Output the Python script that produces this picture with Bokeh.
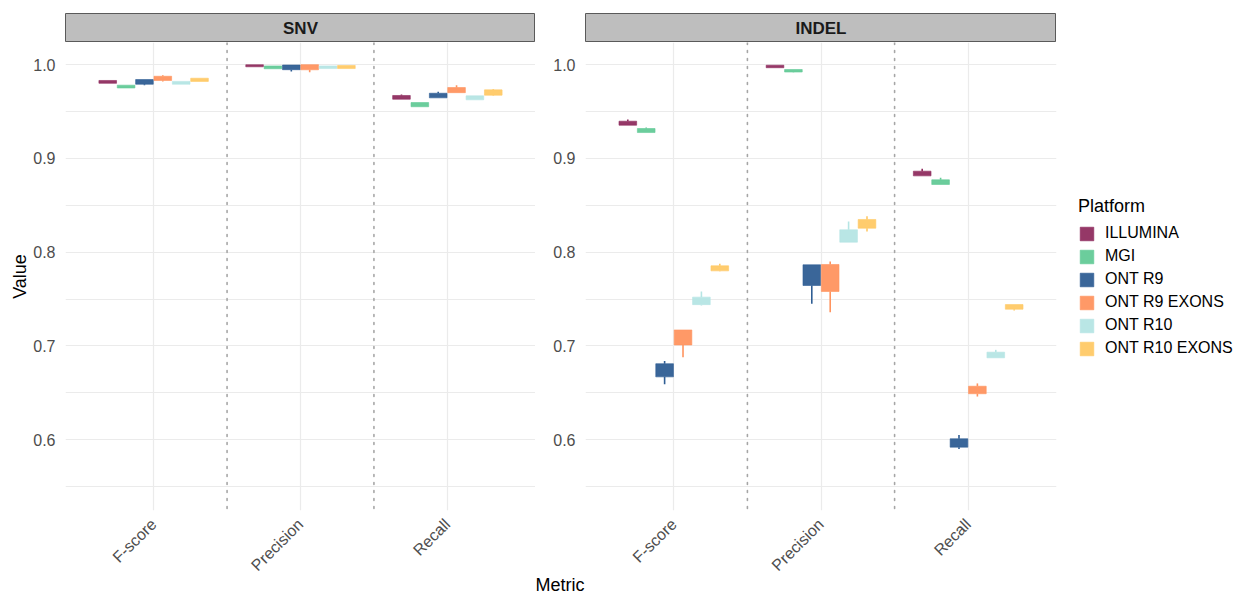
import math
from bokeh.plotting import figure
from bokeh.models import (ColumnDataSource, FactorRange, Range1d, FixedTicker,
                          Span, Legend, LegendItem, Title)
from bokeh.transform import dodge
from bokeh.layouts import row, column
from bokeh.embed import file_html
from bokeh.resources import INLINE
from bokeh.core.properties import value

facets = ["SNV", "INDEL"]
metrics = ["F-score", "Precision", "Recall"]
platforms = ["ILLUMINA", "MGI", "ONT R9", "ONT R9 EXONS", "ONT R10", "ONT R10 EXONS"]
colors = ["#8F2D5F", "#63CA97", "#2F5E94", "#FF945F", "#B5E5E4", "#FFC966"]

y_ticks = [0.6, 0.7, 0.8, 0.9, 1.0]
y_tick_labels = ["0.6", "0.7", "0.8", "0.9", "1.0"]
y_minor = [0.55, 0.65, 0.75, 0.85, 0.95]

# rows = platforms, columns = metrics (F-score, Precision, Recall)
snv_lo = [[0.980, 0.9976, 0.963], [0.975, 0.9955, 0.955], [0.978, 0.9925, 0.9645],
          [0.982, 0.9918, 0.970], [0.979, 0.9957, 0.9624], [0.982, 0.9957, 0.9666]]
snv_q1 = [[0.980, 0.9976, 0.963], [0.975, 0.9955, 0.955], [0.979, 0.9945, 0.9645],
          [0.983, 0.9944, 0.970], [0.979, 0.9957, 0.9624], [0.982, 0.9957, 0.9673]]
snv_q3 = [[0.983, 0.9998, 0.967], [0.978, 0.9985, 0.9595], [0.984, 0.9995, 0.9694],
          [0.9875, 0.9999, 0.9755], [0.982, 0.9985, 0.9666], [0.9854, 0.999, 0.973]]
snv_hi = [[0.983, 0.9998, 0.968], [0.978, 0.9985, 0.9595], [0.984, 0.9995, 0.971],
          [0.9886, 0.9999, 0.978], [0.982, 0.9985, 0.9666], [0.9854, 0.999, 0.974]]

indel_lo = [[0.9353, 0.9966, 0.8813], [0.9275, 0.9918, 0.8721], [0.659, 0.745, 0.590],
            [0.688, 0.736, 0.646], [0.743, 0.8106, 0.6873], [0.7796, 0.822, 0.7377]]
indel_q1 = [[0.9353, 0.9966, 0.8813], [0.9275, 0.992, 0.8721], [0.667, 0.7644, 0.592],
            [0.701, 0.758, 0.649], [0.744, 0.8106, 0.6873], [0.780, 0.8255, 0.7391]]
indel_q3 = [[0.9396, 0.9993, 0.8863], [0.9318, 0.9947, 0.8771], [0.681, 0.7865, 0.601],
            [0.717, 0.7868, 0.657], [0.752, 0.8238, 0.6933], [0.7854, 0.8348, 0.7441]]
indel_hi = [[0.9414, 0.9993, 0.8888], [0.933, 0.9947, 0.8792], [0.684, 0.7865, 0.605],
            [0.717, 0.790, 0.660], [0.758, 0.8326, 0.6958], [0.7875, 0.8383, 0.7441]]

facet_data = {
    "SNV": (snv_lo, snv_q1, snv_q3, snv_hi),
    "INDEL": (indel_lo, indel_q1, indel_q3, indel_hi),
}

FONT = "Liberation Sans"
FRAME_W = [470, 471]
FRAME_H = 468
BORDER_L = [65, 50]
BORDER_R = [0, 187]
BORDER_B = 87
dodge_step = 0.125
box_w = 0.12


def make_strip(name, i):
    s = figure(frame_width=FRAME_W[i], frame_height=29, x_range=Range1d(0, 1),
               y_range=Range1d(0, 1), output_backend="svg", toolbar_location=None,
               min_border_left=BORDER_L[i], min_border_right=0,
               min_border_top=13, min_border_bottom=0)
    s.axis.visible = False
    s.grid.visible = False
    s.background_fill_color = "#bebebe"
    s.border_fill_color = "white"
    s.outline_line_color = "#5a5a5a"
    s.outline_line_width = 1
    s.text(x=[0.5], y=[0.5], text=[name], text_align="center", text_baseline="middle",
           text_font=value(FONT), text_font_size="17px", text_font_style="bold",
           text_color="#1a1a1a")
    return s


def make_panel(name, i):
    lo, q1, q3, hi = facet_data[name]
    p = figure(frame_width=FRAME_W[i], frame_height=FRAME_H,
               x_range=FactorRange(factors=metrics, range_padding=0.1,
                                   range_padding_units="absolute"),
               y_range=Range1d(0.5245, 1.0235),
               output_backend="svg", toolbar_location=None,
               min_border_left=BORDER_L[i], min_border_right=BORDER_R[i],
               min_border_top=0, min_border_bottom=BORDER_B)
    p.background_fill_color = "white"
    p.border_fill_color = "white"
    p.outline_line_color = None

    p.yaxis.ticker = FixedTicker(ticks=y_ticks, minor_ticks=y_minor)
    p.yaxis.major_label_overrides = dict(zip(y_ticks, y_tick_labels))
    for ax in (p.xaxis[0], p.yaxis[0]):
        ax.axis_line_color = None
        ax.major_tick_line_color = None
        ax.minor_tick_line_color = None
        ax.major_label_text_font = FONT
        ax.major_label_text_font_size = "16px"
        ax.major_label_text_color = "#4d4d4d"
        ax.axis_label_text_font = FONT
        ax.axis_label_text_font_size = "18px"
        ax.axis_label_text_font_style = "normal"
        ax.axis_label_text_color = "#000000"
    p.yaxis.major_label_standoff = 4
    p.xaxis.major_label_orientation = math.pi / 4
    p.xaxis.major_label_standoff = 5
    if i == 0:
        p.yaxis.axis_label = "Value"
        p.yaxis.axis_label_standoff = 0

    p.ygrid.grid_line_color = "#ebebeb"
    p.ygrid.grid_line_width = 1.2
    p.ygrid.minor_grid_line_color = "#ebebeb"
    p.ygrid.minor_grid_line_width = 1
    p.xgrid.grid_line_color = "#ebebeb"
    p.xgrid.grid_line_width = 1.2

    for loc in (1.0, 2.0):
        p.add_layout(Span(location=loc, dimension="height", line_color="#a6a6a6",
                          line_width=1.6, line_dash="2 6", line_cap="round"))

    renderers = []
    for k, plat in enumerate(platforms):
        src = ColumnDataSource(dict(metric=metrics, lo=lo[k], q1=q1[k], q3=q3[k], hi=hi[k]))
        off = (k - 2.5) * dodge_step
        xd = dodge("metric", off, range=p.x_range)
        p.segment(x0=xd, x1=xd, y0="lo", y1="q1", source=src,
                  line_color=colors[k], line_width=1.6)
        p.segment(x0=xd, x1=xd, y0="q3", y1="hi", source=src,
                  line_color=colors[k], line_width=1.6)
        r = p.vbar(x=xd, width=box_w, bottom="q1", top="q3", source=src,
                   fill_color=colors[k], fill_alpha=0.95,
                   line_color=colors[k], line_alpha=0.6, line_width=1)
        renderers.append(r)
    return p, renderers


cols = []
panels = []
for i, name in enumerate(facets):
    s = make_strip(name, i)
    p, rs = make_panel(name, i)
    panels.append((p, rs))
    cols.append(column(s, p, spacing=0))

p_right, rs_right = panels[1]
legend = Legend(items=[LegendItem(label=plat, renderers=[r]) for plat, r in zip(platforms, rs_right)],
                location=(22, 153), orientation="vertical",
                title="Platform", title_text_font=FONT, title_text_font_size="18px",
                title_text_font_style="normal", title_text_color="#000000",
                title_standoff=7,
                label_text_font=FONT, label_text_font_size="16px", label_text_color="#000000",
                glyph_width=17, glyph_height=17, label_height=17, label_standoff=10,
                spacing=5, padding=0, margin=0,
                border_line_color=None, background_fill_alpha=0)
p_right.add_layout(legend, "right")

p_right.add_layout(Title(text="Metric", align="left", offset=-50, text_font=FONT,
                         text_font_size="18px", text_font_style="normal",
                         text_color="#000000", standoff=-22), "below")

layout = row(*cols, spacing=0)
open("out.html", "w").write(file_html(layout, INLINE))
